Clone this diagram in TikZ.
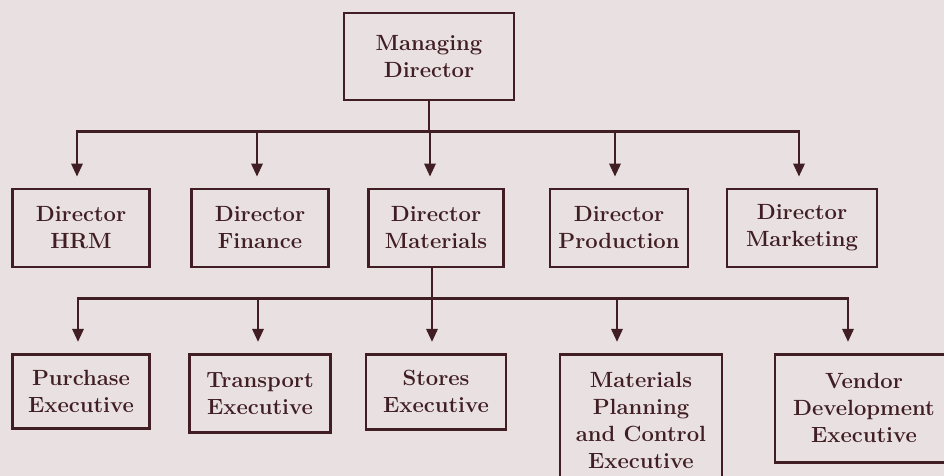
\documentclass[tikz,border=0pt]{standalone}
\usepackage{tikz}
\usetikzlibrary{positioning,arrows.meta}

\definecolor{paper}{RGB}{232,224,225}
\definecolor{ink}{RGB}{64,30,36}

\tikzset{
  post/.style={draw=ink, line width=1.3pt, text=ink, align=center,
    font=\fontsize{11}{13.5}\selectfont\bfseries, inner sep=3pt,
    minimum height=39pt},
  link/.style={draw=ink, line width=1.4pt},
  feed/.style={link, -{Triangle[length=6.5pt,width=5.5pt]}, shorten >=5.5pt},
}

\begin{document}
\begin{tikzpicture}[node distance=85.75pt, on grid]
\fill[paper] (0,0) rectangle (472pt,-238pt);
\useasboundingbox (0,0) rectangle (472pt,-238pt);
\clip (0,0) rectangle (472pt,-238pt);

\node[post, minimum width=85pt, minimum height=43.5pt] (md) at (214.5pt,-28.25pt) {Managing\\Director};

% directors
\node[post, minimum width=67.5pt] (mat)  [below right=85.75pt and 3.5pt of md] {Director\\Materials};
\node[post, minimum width=68.5pt] (fin)  [left=88pt of mat]    {Director\\Finance};
\node[post, minimum width=68.5pt] (hrm)  [left=89.5pt of fin]  {Director\\HRM};
\node[post, minimum width=69pt]   (prod) [right=91.5pt of mat] {Director\\Production};
\node[post, minimum width=75pt]   (mkt)  [right=91.5pt of prod] {Director\\Marketing};

% executives under materials
\node[post, minimum width=68.5pt, minimum height=37pt] (pur) [below=62.5pt of hrm, anchor=north] {Purchase\\Executive};
\node[post, minimum width=70.5pt] (tra) [below=62.5pt of fin, anchor=north] {Transport\\Executive};
\node[post, minimum width=70pt, minimum height=37.5pt] (sto) [below=62.5pt of mat, anchor=north] {Stores\\Executive};
\node[post, minimum width=81pt, minimum height=66pt] (mpc) [below right=62.5pt and 11pt of prod, anchor=north] {Materials\\Planning\\and Control\\Executive};
\node[post, minimum width=89pt, minimum height=54pt] (ven) [below right=62.5pt and 31pt of mkt, anchor=north] {Vendor\\Development\\Executive};

\coordinate (bus1) at ([yshift=-15pt]md.south);
\coordinate (bus2) at ([xshift=-2pt, yshift=-15pt]mat.south);

\draw[link] (md.south) -- (bus1);
\foreach \n/\dx in {hrm/-2, fin/-1.5, mat/-3, prod/-2, mkt/-1.5}
  \draw[feed] (bus1) -| ([xshift=\dx pt]\n.north);

\draw[link] ([xshift=-2pt]mat.south) -- (bus2);
\foreach \n/\dx in {pur/-1.5, tra/-1, sto/-2, mpc/-12, ven/-8}
  \draw[feed] (bus2) -| ([xshift=\dx pt]\n.north);
\end{tikzpicture}
\end{document}
